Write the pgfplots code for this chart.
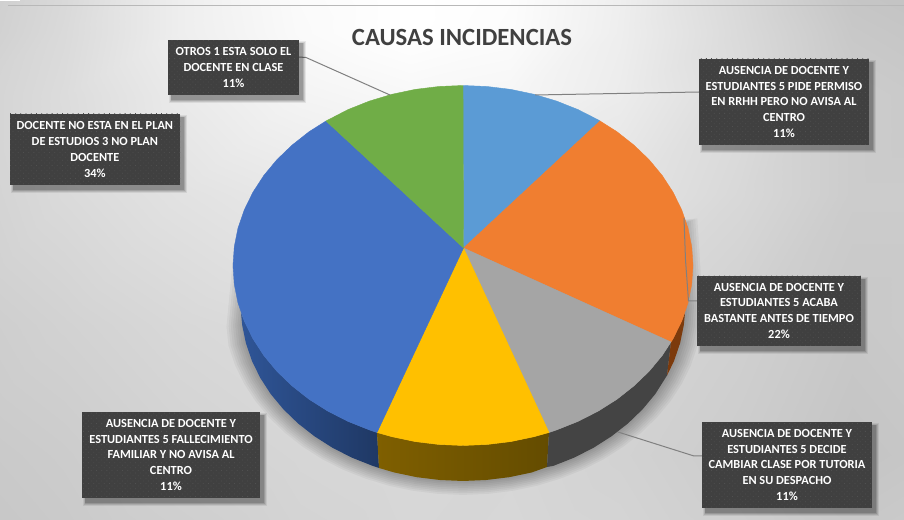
\documentclass[border=0pt]{standalone}
\usepackage{pgfplots}
\pgfplotsset{compat=1.18}
\usepackage{pgfplotstable}
\usepackage{fontspec}
\setmainfont{Carlito}
\usetikzlibrary{patterns.meta}
\definecolor{boxc}{HTML}{404040}
\definecolor{dotc}{HTML}{505050}
\definecolor{linec}{HTML}{808080}
\definecolor{w1}{RGB}{91,155,213}
\definecolor{w2}{RGB}{240,126,48}
\definecolor{w3}{RGB}{165,165,165}
\definecolor{w4}{RGB}{255,192,0}
\definecolor{w5}{RGB}{68,114,196}
\definecolor{w6}{RGB}{112,173,71}
\pgfplotstableread{
x y
680 225
685 307
683.8 325.2
680.1 343.2
674.1 360.8
665.8 377.8
655.3 394
642.6 409.3
628 423.4
611.5 436.3
593.5 447.8
574 457.7
553.3 465.9
531.6 472.5
509.2 477.2
486.2 480
463 481
439.8 480
416.8 477.2
394.4 472.5
372.7 465.9
352 457.7
332.5 447.8
314.5 436.3
298 423.4
283.4 409.3
270.7 394
260.2 377.8
251.9 360.8
245.9 343.2
244 325
250 262
}\shadowtable
\newcommand\lbox[5]{%
  \fill[black,opacity=.07] (axis cs:#1+1,#2+1) rectangle (axis cs:#3+7,#4+8);
  \fill[black,opacity=.10] (axis cs:#1+2,#2+2) rectangle (axis cs:#3+6,#4+7);
  \fill[black,opacity=.12] (axis cs:#1+3,#2+3) rectangle (axis cs:#3+5,#4+6);
  \fill[black,opacity=.14] (axis cs:#1+3,#2+3) rectangle (axis cs:#3+4,#4+5);
  \fill[boxc] (axis cs:#1,#2) rectangle (axis cs:#3,#4);
  \fill[pattern={Dots[distance=3.7pt,angle=45,radius=.55pt]},pattern color=dotc] (axis cs:#1,#2) rectangle (axis cs:#3,#4);
  \node[text=white,align=center,inner sep=0pt,font=\fontsize{12.4}{15.9}\selectfont\bfseries] at (axis cs:{(#1+#3)/2},{(#2+#4)/2}) {#5};
}
\begin{document}
\begin{tikzpicture}
\begin{axis}[
  scale only axis,width=904bp,height=520bp,
  xmin=0,xmax=904,ymin=0,ymax=520,y dir=reverse,
  hide axis,clip mode=individual,
  colormap={g}{gray(0cm)=(0);gray(1cm)=(1)},
  point meta min=0,point meta max=255,
]
% background
\addplot[matrix plot*,shader=interp,mesh/cols=9,mesh/ordering=x varies,point meta=explicit] table[meta=g] {
x y g
8 6 198
120 6 216
240 6 238
360 6 251
460 6 255
560 6 253
680 6 239
800 6 216
904 6 196
8 60 203
120 60 218
240 60 238
360 60 250
460 60 255
560 60 252
680 60 238
800 60 218
904 60 200
8 130 208
120 130 220
240 130 234
360 130 244
460 130 248
560 130 246
680 130 236
800 130 220
904 130 204
8 260 208
120 260 218
240 260 226
360 260 232
460 260 236
560 260 232
680 260 228
800 260 216
904 260 204
8 390 204
120 390 210
240 390 216
360 390 220
460 390 221
560 390 220
680 390 216
800 390 208
904 390 200
8 520 200
120 520 204
240 520 210
360 520 214
460 520 216
560 520 214
680 520 210
800 520 204
904 520 196
};
\addplot[draw=black!28,line width=1bp] coordinates {(8,6)(904,6)};
% soft shadow under the pie
\pgfplotsinvokeforeach{1.08,1.07,1.06,1.05,1.04,1.03,1.02,1.01}{
  \addplot[fill=black,draw=none,opacity=.04] table[x expr=463+(\thisrow{x}-463)*#1,y expr=307+(\thisrow{y}-307)*#1] {\shadowtable} -- cycle;
}
% side walls
\addplot[draw=none,shade,left color={rgb,255:red,47;green,85;blue,151},right color={rgb,255:red,31;green,56;blue,100}] coordinates {(377,432.5)(369.4,429.9)(348,421.4)(327.8,411.1)(309.1,399.3)(292.1,385.9)(276.9,371.3)(263.8,355.5)(252.9,338.7)(244.3,321.1)(241,313)(242.2,325.2)(245.9,343.2)(251.9,360.8)(260.2,377.8)(270.7,394)(283.4,409.3)(298,423.4)(314.5,436.3)(332.5,447.8)(352,457.7)(372.7,465.9)(379,468)} -- cycle;
\addplot[draw=none,shade,left color={rgb,255:red,127;green,95;blue,0},right color={rgb,255:red,100;green,76;blue,0}] coordinates {(377,432.5)(391.9,436.7)(415.2,441.6)(439,444.5)(463,445.5)(487,444.5)(510.8,441.6)(534.1,436.7)(549,432.5)(547,467)(531.6,472.5)(509.2,477.2)(486.2,480)(463,481)(439.8,480)(416.8,477.2)(394.4,472.5)(379,468)} -- cycle;
\addplot[draw=none,fill={rgb,255:red,68;green,68;blue,68}] coordinates {(549,432.5)(556.6,429.9)(578,421.4)(598.2,411.1)(616.9,399.3)(633.9,385.9)(649.1,371.3)(662.2,355.5)(671,342)(667,375.5)(655.3,394)(642.6,409.3)(628,423.4)(611.5,436.3)(593.5,447.8)(574,457.7)(553.3,465.9)(547,467)} -- cycle;
\addplot[draw=none,fill={rgb,255:red,124;green,58;blue,12}] coordinates {(685,313)(681.7,321.1)(673.1,338.7)(671,342)(667,375.5)(674.1,360.8)(680.1,343.2)(683.8,325.2)} -- cycle;
% top surface: 11% 22% 11% 11% 34% 11%
\addplot[draw=w1,line width=.4bp,fill=w1] coordinates {(463.5,248)(463,85.5)(487,86.5)(510.8,89.4)(534.1,94.3)(556.6,101.1)(578,109.6)(598.2,119.9)(600,121)} -- cycle;
\addplot[draw=w2,line width=.4bp,fill=w2] coordinates {(463.5,248)(600,121)(616.9,131.7)(633.9,145.1)(649.1,159.7)(662.2,175.5)(673.1,192.3)(681.7,209.9)(688,228.1)(691.7,246.7)(693,265.5)(691.7,284.3)(688,302.9)(681.7,321.1)(673.1,338.7)(671,342)} -- cycle;
\addplot[draw=w3,line width=.4bp,fill=w3] coordinates {(463.5,248)(671,342)(662.2,355.5)(649.1,371.3)(633.9,385.9)(616.9,399.3)(598.2,411.1)(578,421.4)(556.6,429.9)(549,432.5)} -- cycle;
\addplot[draw=w4,line width=.4bp,fill=w4] coordinates {(463.5,248)(549,432.5)(534.1,436.7)(510.8,441.6)(487,444.5)(463,445.5)(439,444.5)(415.2,441.6)(391.9,436.7)(377,432.5)} -- cycle;
\addplot[draw=w5,line width=.4bp,fill=w5] coordinates {(463.5,248)(377,432.5)(369.4,429.9)(348,421.4)(327.8,411.1)(309.1,399.3)(292.1,385.9)(276.9,371.3)(263.8,355.5)(252.9,338.7)(244.3,321.1)(238,302.9)(234.3,284.3)(233,265.5)(234.3,246.7)(238,228.1)(244.3,209.9)(252.9,192.3)(263.8,175.5)(276.9,159.7)(292.1,145.1)(309.1,131.7)(326,121)} -- cycle;
\addplot[draw=w6,line width=.4bp,fill=w6] coordinates {(463.5,248)(326,121)(348,109.6)(369.4,101.1)(391.9,94.3)(415.2,89.4)(439,86.5)(463,85.5)} -- cycle;
% leader lines
\addplot[linec,line width=1bp] coordinates {(299,57)(306,57.5)(390,95)};
\addplot[linec,line width=1bp] coordinates {(699,92)(535,95)};
\addplot[linec,line width=1bp] coordinates {(684,218)(685.5,260)(688.5,301)(697,301)};
\addplot[linec,line width=1bp] coordinates {(702,456)(694,456)(618,432)};
% title and labels
\node[text={rgb,255:red,64;green,64;blue,64},inner sep=0pt,font=\fontsize{24.8}{26}\selectfont\bfseries] at (axis cs:462,37.5) {CAUSAS INCIDENCIAS};
\lbox{168}{40}{299}{95}{OTROS 1 ESTA SOLO EL\\DOCENTE EN CLASE\\11\%}
\lbox{9.7}{114}{180}{185}{DOCENTE NO ESTA EN EL PLAN\\DE ESTUDIOS 3 NO PLAN\\DOCENTE\\34\%}
\lbox{699}{59}{869}{144.7}{AUSENCIA DE DOCENTE Y\\ESTUDIANTES 5 PIDE PERMISO\\EN RRHH PERO NO AVISA AL\\CENTRO\\11\%}
\lbox{697}{276}{861}{345.7}{AUSENCIA DE DOCENTE Y\\ESTUDIANTES 5 ACABA\\BASTANTE ANTES DE TIEMPO\\22\%}
\lbox{702}{422.3}{872}{507.7}{AUSENCIA DE DOCENTE Y\\ESTUDIANTES 5 DECIDE\\CAMBIAR CLASE POR TUTORIA\\EN SU DESPACHO\\11\%}
\lbox{82}{412}{260}{497.7}{AUSENCIA DE DOCENTE Y\\ESTUDIANTES 5 FALLECIMIENTO\\FAMILIAR Y NO AVISA AL\\CENTRO\\11\%}
\end{axis}
\end{tikzpicture}
\end{document}
